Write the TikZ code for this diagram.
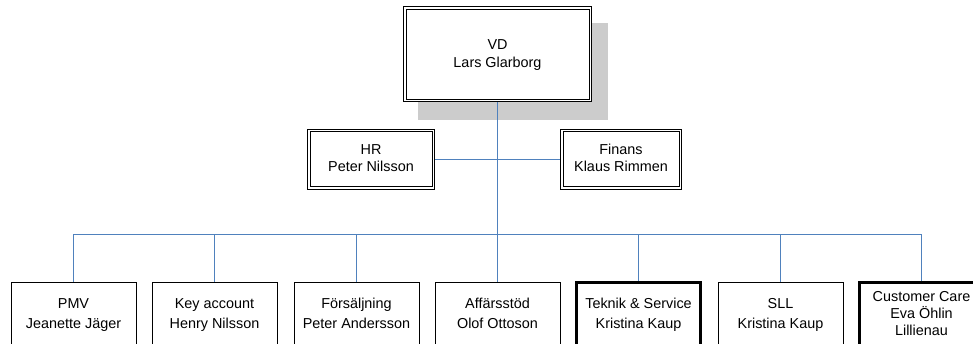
\documentclass[tikz,border=0pt]{standalone}
\usepackage{fontspec}
\setmainfont{Liberation Sans}
\usetikzlibrary{calc}
\definecolor{linkblue}{RGB}{79,129,189}
\definecolor{shadowgray}{RGB}{204,204,204}
% fixed line height and depth so every box places its text the same way
\newcommand\hstrut{\rule{0pt}{12pt}}
\newcommand\dstrut{\rule[-4pt]{0pt}{4pt}}
\begin{document}
\begin{tikzpicture}[x=1pt,y=-1pt,
  every node/.style={font=\fontsize{14.4}{17}\selectfont, align=center, inner sep=0pt},
  dbox/.style={draw, fill=white, line width=1pt},
  unit/.style={draw, line width=1pt, minimum width=125pt, minimum height=64pt,
    font=\fontsize{14.4}{20}\selectfont},
  keyunit/.style={unit, line width=3pt, minimum width=124pt},
  inner rule/.style={draw, line width=1pt},
  link/.style={draw=linkblue, line width=1pt}]
\useasboundingbox (0,0) rectangle (973,344);
\clip (0,0) rectangle (973,344);

% drop shadow behind the top box
\fill[shadowgray] (418,23) rectangle (608,120);

% management, each with a double frame
\node[dbox, minimum width=188pt, minimum height=95pt, font=\fontsize{14.4}{18}\selectfont]
  (vd) at (497.5,54.5) {\hstrut VD\\Lars Glarborg\dstrut};
\node[dbox, minimum width=127pt, minimum height=60pt] (hr) at (371,159.5) {\hstrut HR\\Peter Nilsson\dstrut};
\node[dbox, minimum width=121pt, minimum height=60pt] (fin) at (621,159.5) {\hstrut Finans\\Klaus Rimmen\dstrut};
\foreach \m in {vd,hr,fin}
  \path[inner rule] ($(\m.north west)+(3,3)$) rectangle ($(\m.south east)+(-3,-3)$);

% departments
\node[unit]    (d1) at (73.5,314)  {\hstrut PMV\\Jeanette Jäger\dstrut};
\node[unit]    (d2) at (214.5,314) {\hstrut Key account\\Henry Nilsson\dstrut};
\node[unit]    (d3) at (356.5,314) {\hstrut Försäljning\\Peter Andersson\dstrut};
\node[unit]    (d4) at (497.5,314) {\hstrut Affärsstöd\\Olof Ottoson\dstrut};
\node[keyunit] (d5) at (638.5,314) {\hstrut Teknik \& Service\\Kristina Kaup\dstrut};
\node[unit]    (d6) at (780.5,314) {\hstrut SLL\\Kristina Kaup\dstrut};
\node[keyunit, font=\fontsize{14.4}{17}\selectfont]
               (d7) at (921.5,314) {\hstrut Customer Care\\Eva Öhlin\\Lillienau\dstrut};

% connectors
\coordinate (bus) at (497.5,234.5);
\path[link] (vd.south) -- (bus);
\path[link] (hr.east) -- (fin.west);
\foreach \d in {d1,d2,d3,d4,d5,d6,d7}
  \path[link] (bus) -| (\d.north);
\end{tikzpicture}
\end{document}
